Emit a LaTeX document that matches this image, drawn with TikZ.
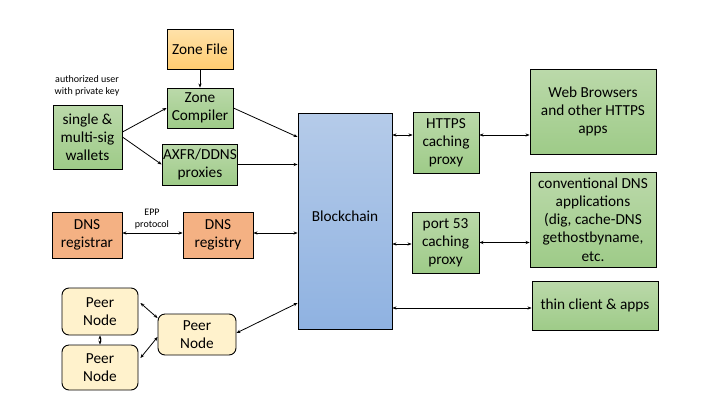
\documentclass[tikz,border=0pt]{standalone}
\usepackage{fontspec}
\setmainfont{Carlito}
\usetikzlibrary{arrows.meta,calc}
\definecolor{greentop}{RGB}{187,217,170}
\definecolor{greenbot}{RGB}{158,203,136}
\definecolor{zonetop}{RGB}{255,226,170}
\definecolor{zonebot}{RGB}{255,204,112}
\definecolor{regfill}{RGB}{244,177,131}
\definecolor{peerfill}{RGB}{255,242,204}
\definecolor{bctop}{RGB}{181,203,233}
\definecolor{bcbot}{RGB}{143,178,225}
\tikzset{
  box/.style={draw=black,line width=0.9pt,align=center,inner sep=1pt,
    font=\fontsize{15.3}{18.2}\selectfont},
  greenbox/.style={box,top color=greentop,bottom color=greenbot},
  zonebox/.style={box,top color=zonetop,bottom color=zonebot},
  regbox/.style={box,fill=regfill},
  peerbox/.style={box,fill=peerfill,rounded corners=7pt},
  bcbox/.style={box,top color=bctop,bottom color=bcbot},
  small/.style={align=center,font=\fontsize{10}{12}\selectfont,inner sep=0pt},
  conn/.style={line width=0.8pt,-{Stealth[length=4pt,width=3.2pt]}},
  bconn/.style={line width=0.8pt,{Stealth[length=4pt,width=3.2pt]}-{Stealth[length=4pt,width=3.2pt]}},
}
\begin{document}
\begin{tikzpicture}[x=1pt,y=-1pt]
\useasboundingbox[fill=white] (0,0) rectangle (720,405);
\node[zonebox,minimum width=66pt,minimum height=40pt] (zonefile) at (200,49) {Zone File};
\node[greenbox,minimum width=66pt,minimum height=40pt] (compiler) at (200,108) {Zone\\Compiler};
\node[greenbox,minimum width=69pt,minimum height=64pt] (wallets) at (87.5,137) {single \&\\multi-sig\\wallets};
\node[greenbox,minimum width=66pt,minimum height=41pt] (axfr) at (200,164.5) {AXFR/DDNS\\proxies};
\node[bcbox,minimum width=94pt,minimum height=216pt] (bc) at (345,221) {\raisebox{9pt}{Blockchain}};
\node[regbox,minimum width=70pt,minimum height=46pt] (registrar) at (87,235) {DNS\\registrar};
\node[regbox,minimum width=70pt,minimum height=46pt] (registry) at (218,235) {DNS\\registry};
\node[peerbox,minimum width=76pt,minimum height=47pt] (peer1) at (100,311.5) {Peer\\Node};
\node[peerbox,minimum width=76pt,minimum height=45pt] (peer2) at (100,367.5) {Peer\\Node};
\node[peerbox,minimum width=78pt,minimum height=41pt] (peer3) at (197,334.5) {Peer\\Node};
\node[greenbox,minimum width=66pt,minimum height=61pt] (https) at (446,142.5) {HTTPS\\caching\\proxy};
\node[greenbox,minimum width=126pt,minimum height=85pt] (web) at (593,111.5) {Web Browsers\\and other HTTPS\\apps};
\node[greenbox,minimum width=126pt,minimum height=95pt] (conv) at (593,219.5) {conventional DNS\\applications\\(dig, cache-DNS\\gethostbyname,\\etc.};
\node[greenbox,minimum width=67pt,minimum height=61pt] (port) at (445.5,242.5) {port 53\\caching\\proxy};
\node[greenbox,minimum width=126pt,minimum height=49pt] (thin) at (595,305.5) {thin client \& apps};
\node[small] (authlbl) at (87,86) {authorized user\\with private key};
\node[small] (epplbl) at (152,219) {EPP\\protocol};
% connectors
\draw[conn] (zonefile.south) -- (compiler.north);
\draw[conn] ([yshift=5pt]wallets.east) -- (compiler.west);
\draw[conn] (wallets.east) -- (axfr.west);
\draw[conn] (compiler.east) -- ([yshift=84pt]bc.west);
\draw[conn] (axfr.east) -- (axfr.east -| bc.west);
\draw[bconn] ([yshift=2pt]registrar.east) -- ([yshift=2pt]registry.west);
\draw[bconn] ([yshift=2pt]registry.east) -- ([yshift=2pt]registry.east -| bc.west);
\draw[bconn] ([yshift=1.5pt]peer3.east) -- ([yshift=-82pt]bc.west);
\draw[bconn] ([xshift=2pt,yshift=8.5pt]peer1.east) -- ([yshift=16.5pt]peer3.west);
\draw[bconn] ([xshift=2pt,yshift=9.5pt]peer2.east) -- ([yshift=-2.5pt]peer3.west);
\draw[bconn] (peer1.south) -- (peer2.north);
\draw[bconn] ([yshift=7.5pt]https.west -| bc.east) -- ([yshift=7.5pt]https.west);
\draw[bconn] ([yshift=7.5pt]https.east) -- ([yshift=7.5pt]https.east -| web.west);
\draw[bconn] ([yshift=-1.5pt]port.west -| bc.east) -- ([yshift=-1.5pt]port.west);
\draw[bconn] (port.east) -- (port.east -| conv.west);
\draw[bconn] ([yshift=-2.5pt]thin.west -| bc.east) -- ([yshift=-2.5pt]thin.west);
\end{tikzpicture}
\end{document}
